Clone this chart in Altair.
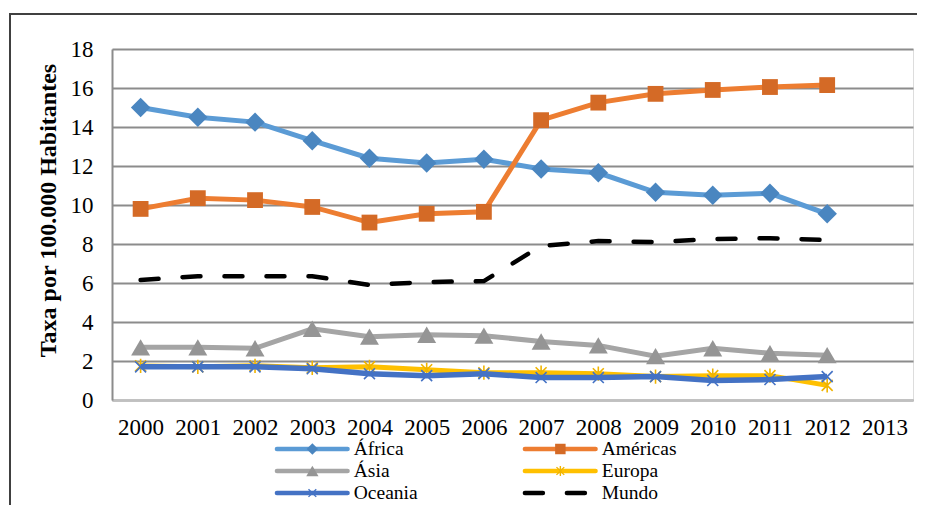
import altair as alt
import pandas as pd

anos = [str(a) for a in range(2000, 2013)]
dominio_x = [str(a) for a in range(2000, 2014)]

africa = [15.0, 14.5, 14.25, 13.3, 12.4, 12.15, 12.35, 11.85, 11.65, 10.65, 10.5, 10.6, 9.55]
americas = [9.8, 10.35, 10.25, 9.9, 9.1, 9.55, 9.65, 14.35, 15.25, 15.7, 15.9, 16.05, 16.15]
asia = [2.7, 2.7, 2.65, 3.65, 3.25, 3.35, 3.3, 3.0, 2.8, 2.25, 2.65, 2.4, 2.3]
europa = [1.75, 1.7, 1.75, 1.65, 1.7, 1.55, 1.4, 1.4, 1.35, 1.2, 1.25, 1.25, 0.75]
oceania = [1.7, 1.7, 1.7, 1.6, 1.35, 1.25, 1.35, 1.15, 1.15, 1.2, 1.0, 1.05, 1.2]
mundo = [6.15, 6.35, 6.35, 6.35, 5.9, 6.05, 6.1, 7.9, 8.15, 8.1, 8.25, 8.3, 8.2]

series = ["África", "Américas", "Ásia", "Europa", "Oceania", "Mundo"]
valores = [africa, americas, asia, europa, oceania, mundo]

FONT = "Liberation Serif"
X_PATH = "M-1,-1L1,1M-1,1L1,-1"
STAR_PATH = "M-1,-1L1,1M-1,1L1,-1M0,-1.3L0,1.3"

estilos = {
    "África": dict(line="#5B9BD5", mk="#4A86C0", shape="diamond", size=380, filled=True, lsize=130),
    "Américas": dict(line="#ED7D31", mk="#D46A26", shape="square", size=250, filled=True, lsize=110),
    "Ásia": dict(line="#A5A5A5", mk="#959595", shape="triangle-up", size=360, filled=True, lsize=150),
    "Europa": dict(line="#FFC000", mk="#F0B400", shape=STAR_PATH, size=120, filled=False, lsize=60),
    "Oceania": dict(line="#4472C4", mk="#4472C4", shape=X_PATH, size=120, filled=False, lsize=60),
    "Mundo": dict(line="#000000", mk=None, shape=None, size=0, filled=True, lsize=0),
}

rows = []
for s, vals in zip(series, valores):
    for a, v in zip(anos, vals):
        rows.append({"Região": s, "Ano": a, "Valor": v})
df = pd.DataFrame(rows)

leg = pd.DataFrame({"Região": series})
leg["col"] = [i % 2 for i in range(len(series))]
leg["row"] = [i // 2 for i in range(len(series))]

W, H = 801, 351

base = alt.Chart(df)
xenc = alt.X("Ano:O", scale=alt.Scale(domain=dominio_x, paddingInner=0, paddingOuter=0), title=None,
             axis=alt.Axis(labelAngle=0, ticks=False, labelPadding=16, labelFont=FONT, labelFontSize=23,
                           labelColor="#000000", domainColor="#C0C0C0", domainWidth=2.5, grid=False))
yenc = alt.Y("Valor:Q", scale=alt.Scale(domain=[0, 18], nice=False),
             title="Taxa por 100.000 Habitantes",
             axis=alt.Axis(values=list(range(0, 19, 2)), ticks=False, labelPadding=19, labelFont=FONT,
                           labelFontSize=23, labelColor="#000000", titleFont=FONT, titleFontSize=24,
                           titleFontWeight="bold", titleColor="#000000", titlePadding=10, titleY=161,
                           domainColor="#8C8C8C", domainWidth=2, gridColor="#8C8C8C", gridWidth=2,
                           labelOverlap=False))

frame = alt.Chart(leg).mark_rect(fillOpacity=0, stroke="#404040", strokeWidth=1.5).encode(
    x=alt.value(-102), x2=alt.value(900), y=alt.value(-35), y2=alt.value(600))

main_layers = []
for s in series:
    st = estilos[s]
    sub = base.transform_filter(alt.datum["Região"] == s)
    if s == "Mundo":
        ln = sub.mark_line(color="#000000", strokeWidth=4.5, strokeDash=[18, 24], strokeCap="round")
    else:
        ln = sub.mark_line(color=st["line"], strokeWidth=5 if s != "Oceania" else 5.5)
    main_layers.append(ln.encode(x=xenc, y=yenc))
    if st["shape"] is not None:
        if st["filled"]:
            pt = sub.mark_point(shape=st["shape"], size=st["size"], filled=True, fill=st["mk"], opacity=1)
        else:
            pt = sub.mark_point(shape=st["shape"], size=st["size"], filled=False, stroke=st["mk"],
                                strokeWidth=1.6, opacity=1)
        main_layers.append(pt.encode(x=xenc, y=yenc))

main = alt.layer(*main_layers)

# legend rows ~22 px apart below the axis labels, columns 248 px apart
lx = alt.Scale(domain=[-0.665, 2.565], nice=False, zero=False)
ly = alt.Scale(domain=[-18.18, -2.227], nice=False, zero=False, reverse=True)
lbase = alt.Chart(leg).transform_calculate(x2="datum.col + 0.285", xm="datum.col + 0.143",
                                           xt="datum.col + 0.31")
LX = alt.X("col:Q", scale=lx, axis=None)
LY = alt.Y("row:Q", scale=ly, axis=None)
leg_layers = []
for s in series:
    st = estilos[s]
    sub = lbase.transform_filter(alt.datum["Região"] == s)
    if s == "Mundo":
        r = sub.mark_rule(color="#000000", strokeWidth=4.5, strokeDash=[18, 24], strokeCap="round")
    else:
        r = sub.mark_rule(color=st["line"], strokeWidth=4.5, strokeCap="round")
    leg_layers.append(r.encode(x=LX, x2="x2:Q", y=LY))
    if st["shape"] is not None:
        if st["filled"]:
            p = sub.mark_point(shape=st["shape"], size=st["lsize"], filled=True, fill=st["mk"], opacity=1)
        else:
            p = sub.mark_point(shape=st["shape"], size=st["lsize"], filled=False, stroke=st["mk"],
                               strokeWidth=1.4, opacity=1)
        leg_layers.append(p.encode(x=alt.X("xm:Q", scale=lx, axis=None), y=LY))
    t = sub.mark_text(align="left", baseline="middle", font=FONT, fontSize=19.5, color="#000000").encode(
        x=alt.X("xt:Q", scale=lx, axis=None), y=LY, text="Região:N")
    leg_layers.append(t)

legend = alt.layer(*leg_layers)

chart = alt.layer(frame, main, legend).resolve_scale(x="independent", y="independent").properties(
    width=W, height=H,
    autosize=alt.AutoSizeParams(type="none"),
    padding={"left": 104, "top": 41, "right": 4, "bottom": 105}
).configure_view(fill="#F0F0F0", stroke="#8C8C8C", strokeWidth=2).configure(
    background="white", font=FONT
).configure_axis(labelFont=FONT, titleFont=FONT)

chart.save("out.html", embed_options={"renderer": "svg", "actions": False})
